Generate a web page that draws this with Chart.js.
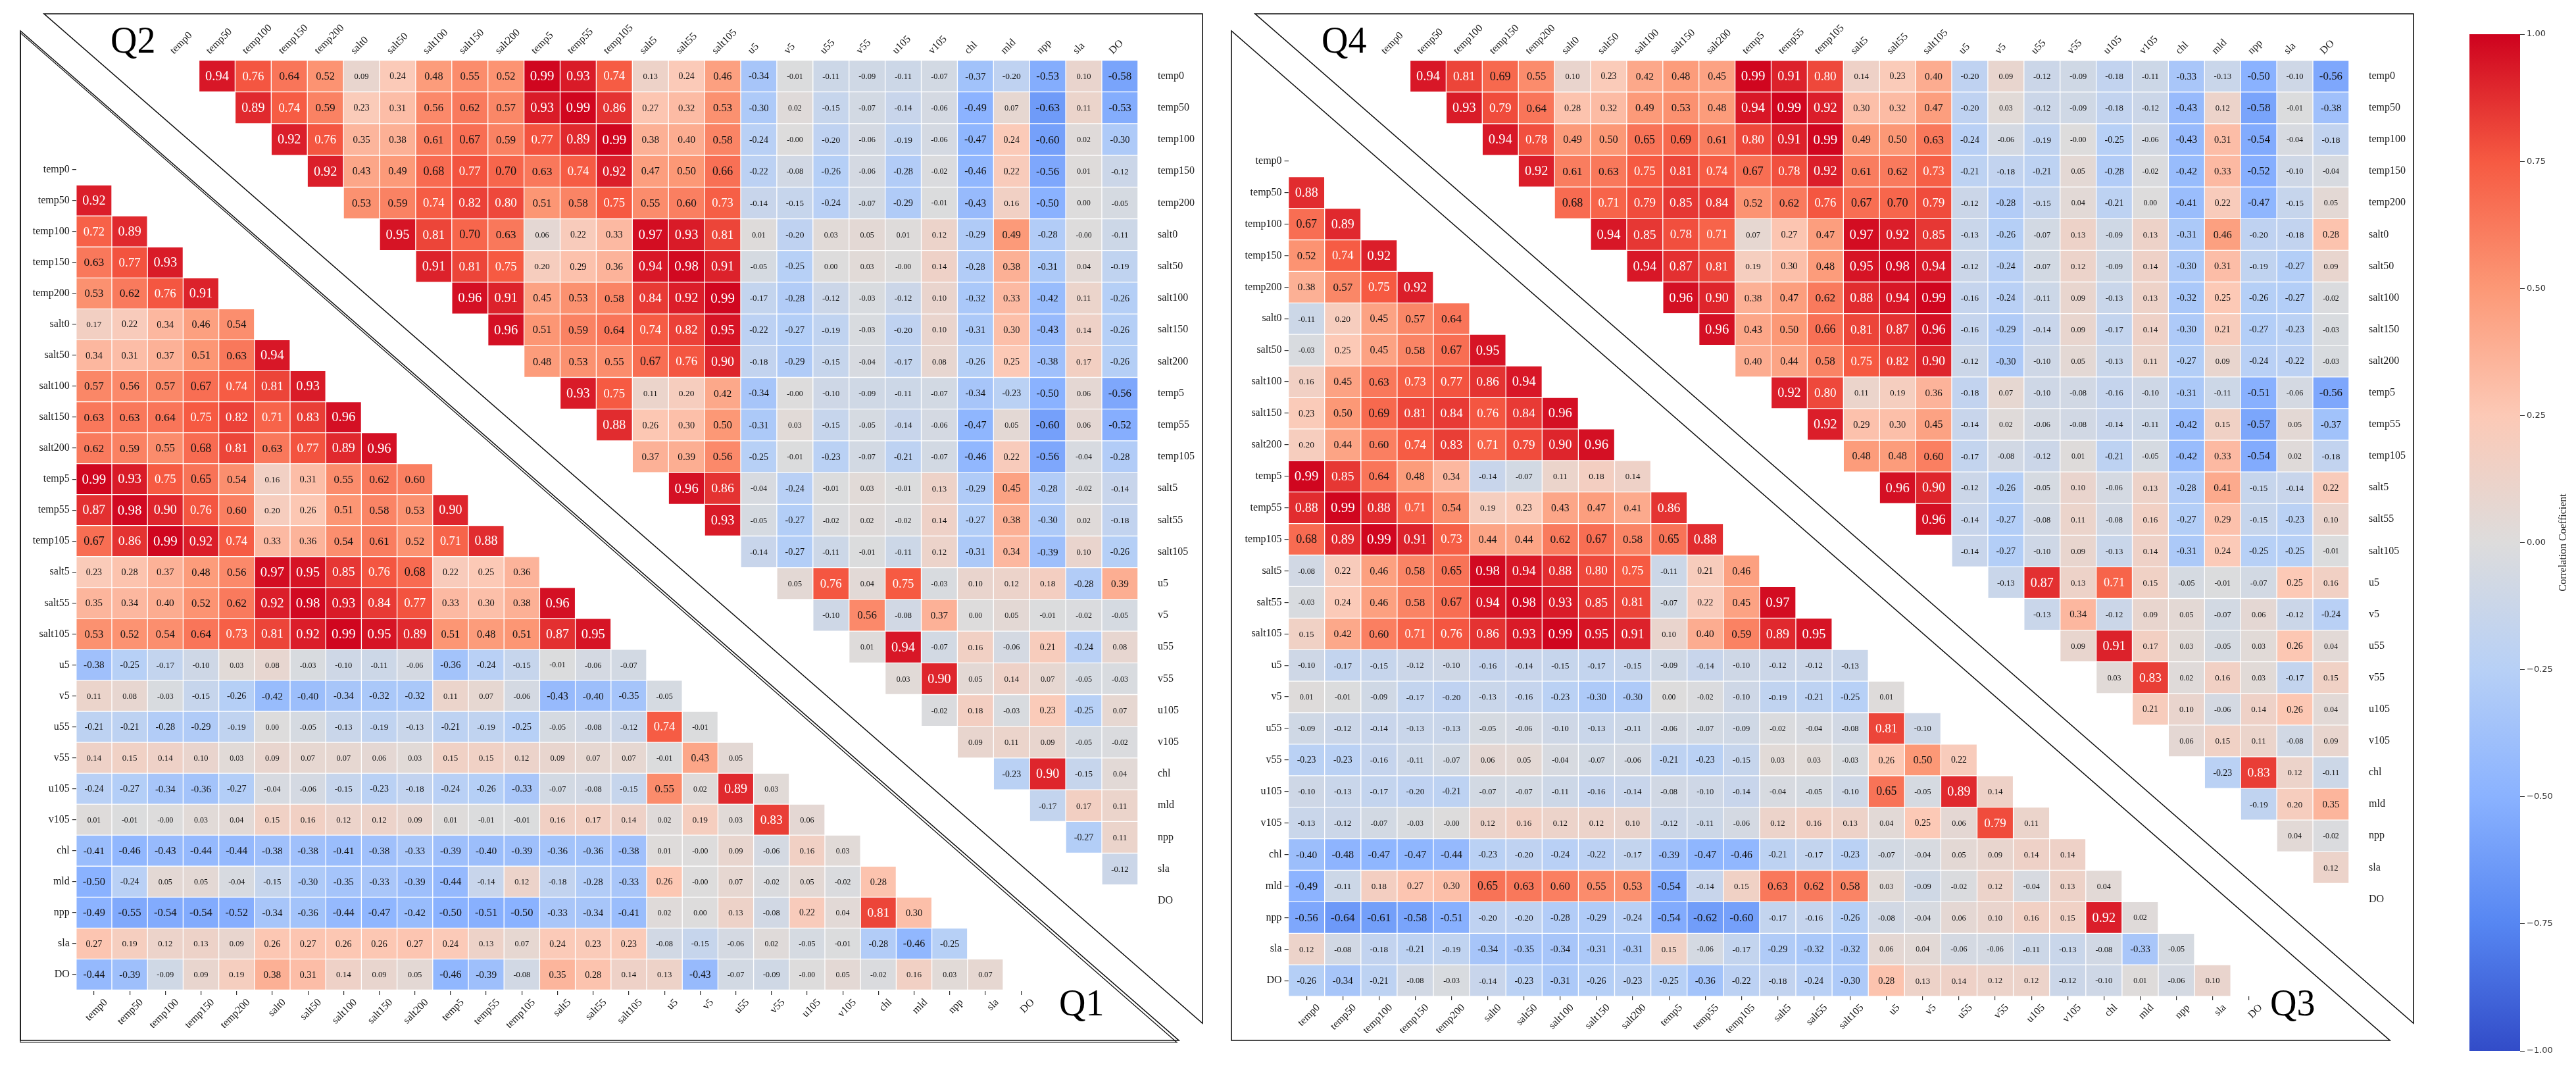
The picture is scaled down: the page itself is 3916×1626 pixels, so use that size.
<!DOCTYPE html>
<html lang="en">
<head>
<meta charset="UTF-8">
<title>Correlation matrices Q1-Q4</title>
<script src="https://cdn.jsdelivr.net/npm/chart.js"></script>
<style>
  html, body { margin: 0; padding: 0; background: #fff; }
  body { width: 3916px; height: 1626px; position: relative; overflow: hidden; }
  .box { position: absolute; top: 0; height: 1626px; }
</style>
</head>
<body>
<div class="box" style="left:0;width:1841px"><canvas id="leftPanel"></canvas></div>
<div class="box" style="left:1841px;width:1841px"><canvas id="rightPanel"></canvas></div>
<div class="box" style="left:3700px;width:216px"><canvas id="colorBar"></canvas></div>

<script>
// variable names, same order on every axis
var varNames = ['temp0', 'temp50', 'temp100', 'temp150', 'temp200', 'salt0', 'salt50', 'salt100', 'salt150', 'salt200',
  'temp5', 'temp55', 'temp105', 'salt5', 'salt55', 'salt105', 'u5', 'v5', 'u55', 'v55', 'u105', 'v105',
  'chl', 'mld', 'npp', 'sla', 'DO'];

var colorbarTicks = [-1, -0.75, -0.5, -0.25, 0, 0.25, 0.5, 0.75, 1];

// Q1: lower triangle of the left panel, rows temp50..DO, columns temp0..(row-1)
var q1Rows = [
  [0.92],
  [0.72, 0.89],
  [0.63, 0.77, 0.93],
  [0.53, 0.62, 0.76, 0.91],
  [0.17, 0.22, 0.34, 0.46, 0.54],
  [0.34, 0.31, 0.37, 0.51, 0.63, 0.94],
  [0.57, 0.56, 0.57, 0.67, 0.74, 0.81, 0.93],
  [0.63, 0.63, 0.64, 0.75, 0.82, 0.71, 0.83, 0.96],
  [0.62, 0.59, 0.55, 0.68, 0.81, 0.63, 0.77, 0.89, 0.96],
  [0.99, 0.93, 0.75, 0.65, 0.54, 0.16, 0.31, 0.55, 0.62, 0.60],
  [0.87, 0.98, 0.90, 0.76, 0.60, 0.20, 0.26, 0.51, 0.58, 0.53, 0.90],
  [0.67, 0.86, 0.99, 0.92, 0.74, 0.33, 0.36, 0.54, 0.61, 0.52, 0.71, 0.88],
  [0.23, 0.28, 0.37, 0.48, 0.56, 0.97, 0.95, 0.85, 0.76, 0.68, 0.22, 0.25, 0.36],
  [0.35, 0.34, 0.40, 0.52, 0.62, 0.92, 0.98, 0.93, 0.84, 0.77, 0.33, 0.30, 0.38, 0.96],
  [0.53, 0.52, 0.54, 0.64, 0.73, 0.81, 0.92, 0.99, 0.95, 0.89, 0.51, 0.48, 0.51, 0.87, 0.95],
  [-0.38, -0.25, -0.17, -0.10, 0.03, 0.08, -0.03, -0.10, -0.11, -0.06, -0.36, -0.24, -0.15, -0.01, -0.06, -0.07],
  [0.11, 0.08, -0.03, -0.15, -0.26, -0.42, -0.40, -0.34, -0.32, -0.32, 0.11, 0.07, -0.06, -0.43, -0.40, -0.35, -0.05],
  [-0.21, -0.21, -0.28, -0.29, -0.19, 0.00, -0.05, -0.13, -0.19, -0.13, -0.21, -0.19, -0.25, -0.05, -0.08, -0.12, 0.74, -0.01],
  [0.14, 0.15, 0.14, 0.10, 0.03, 0.09, 0.07, 0.07, 0.06, 0.03, 0.15, 0.15, 0.12, 0.09, 0.07, 0.07, -0.01, 0.43, 0.05],
  [-0.24, -0.27, -0.34, -0.36, -0.27, -0.04, -0.06, -0.15, -0.23, -0.18, -0.24, -0.26, -0.33, -0.07, -0.08, -0.15, 0.55, 0.02, 0.89, 0.03],
  [0.01, -0.01, -0.00, 0.03, 0.04, 0.15, 0.16, 0.12, 0.12, 0.09, 0.01, -0.01, -0.01, 0.16, 0.17, 0.14, 0.02, 0.19, 0.03, 0.83, 0.06],
  [-0.41, -0.46, -0.43, -0.44, -0.44, -0.38, -0.38, -0.41, -0.38, -0.33, -0.39, -0.40, -0.39, -0.36, -0.36, -0.38, 0.01, -0.00, 0.09, -0.06, 0.16, 0.03],
  [-0.50, -0.24, 0.05, 0.05, -0.04, -0.15, -0.30, -0.35, -0.33, -0.39, -0.44, -0.14, 0.12, -0.18, -0.28, -0.33, 0.26, -0.00, 0.07, -0.02, 0.05, -0.02, 0.28],
  [-0.49, -0.55, -0.54, -0.54, -0.52, -0.34, -0.36, -0.44, -0.47, -0.42, -0.50, -0.51, -0.50, -0.33, -0.34, -0.41, 0.02, 0.00, 0.13, -0.08, 0.22, 0.04, 0.81, 0.30],
  [0.27, 0.19, 0.12, 0.13, 0.09, 0.26, 0.27, 0.26, 0.26, 0.27, 0.24, 0.13, 0.07, 0.24, 0.23, 0.23, -0.08, -0.15, -0.06, 0.02, -0.05, -0.01, -0.28, -0.46, -0.25],
  [-0.44, -0.39, -0.09, 0.09, 0.19, 0.38, 0.31, 0.14, 0.09, 0.05, -0.46, -0.39, -0.08, 0.35, 0.28, 0.14, 0.13, -0.43, -0.07, -0.09, -0.00, 0.05, -0.02, 0.16, 0.03, 0.07]
];

// Q2: upper triangle of the left panel, rows temp0..sla, columns (row+1)..DO
var q2Rows = [
  [0.94, 0.76, 0.64, 0.52, 0.09, 0.24, 0.48, 0.55, 0.52, 0.99, 0.93, 0.74, 0.13, 0.24, 0.46, -0.34, -0.01, -0.11, -0.09, -0.11, -0.07, -0.37, -0.20, -0.53, 0.10, -0.58],
  [0.89, 0.74, 0.59, 0.23, 0.31, 0.56, 0.62, 0.57, 0.93, 0.99, 0.86, 0.27, 0.32, 0.53, -0.30, 0.02, -0.15, -0.07, -0.14, -0.06, -0.49, 0.07, -0.63, 0.11, -0.53],
  [0.92, 0.76, 0.35, 0.38, 0.61, 0.67, 0.59, 0.77, 0.89, 0.99, 0.38, 0.40, 0.58, -0.24, -0.00, -0.20, -0.06, -0.19, -0.06, -0.47, 0.24, -0.60, 0.02, -0.30],
  [0.92, 0.43, 0.49, 0.68, 0.77, 0.70, 0.63, 0.74, 0.92, 0.47, 0.50, 0.66, -0.22, -0.08, -0.26, -0.06, -0.28, -0.02, -0.46, 0.22, -0.56, 0.01, -0.12],
  [0.53, 0.59, 0.74, 0.82, 0.80, 0.51, 0.58, 0.75, 0.55, 0.60, 0.73, -0.14, -0.15, -0.24, -0.07, -0.29, -0.01, -0.43, 0.16, -0.50, 0.00, -0.05],
  [0.95, 0.81, 0.70, 0.63, 0.06, 0.22, 0.33, 0.97, 0.93, 0.81, 0.01, -0.20, 0.03, 0.05, 0.01, 0.12, -0.29, 0.49, -0.28, -0.00, -0.11],
  [0.91, 0.81, 0.75, 0.20, 0.29, 0.36, 0.94, 0.98, 0.91, -0.05, -0.25, 0.00, 0.03, -0.00, 0.14, -0.28, 0.38, -0.31, 0.04, -0.19],
  [0.96, 0.91, 0.45, 0.53, 0.58, 0.84, 0.92, 0.99, -0.17, -0.28, -0.12, -0.03, -0.12, 0.10, -0.32, 0.33, -0.42, 0.11, -0.26],
  [0.96, 0.51, 0.59, 0.64, 0.74, 0.82, 0.95, -0.22, -0.27, -0.19, -0.03, -0.20, 0.10, -0.31, 0.30, -0.43, 0.14, -0.26],
  [0.48, 0.53, 0.55, 0.67, 0.76, 0.90, -0.18, -0.29, -0.15, -0.04, -0.17, 0.08, -0.26, 0.25, -0.38, 0.17, -0.26],
  [0.93, 0.75, 0.11, 0.20, 0.42, -0.34, -0.00, -0.10, -0.09, -0.11, -0.07, -0.34, -0.23, -0.50, 0.06, -0.56],
  [0.88, 0.26, 0.30, 0.50, -0.31, 0.03, -0.15, -0.05, -0.14, -0.06, -0.47, 0.05, -0.60, 0.06, -0.52],
  [0.37, 0.39, 0.56, -0.25, -0.01, -0.23, -0.07, -0.21, -0.07, -0.46, 0.22, -0.56, -0.04, -0.28],
  [0.96, 0.86, -0.04, -0.24, -0.01, 0.03, -0.01, 0.13, -0.29, 0.45, -0.28, -0.02, -0.14],
  [0.93, -0.05, -0.27, -0.02, 0.02, -0.02, 0.14, -0.27, 0.38, -0.30, 0.02, -0.18],
  [-0.14, -0.27, -0.11, -0.01, -0.11, 0.12, -0.31, 0.34, -0.39, 0.10, -0.26],
  [0.05, 0.76, 0.04, 0.75, -0.03, 0.10, 0.12, 0.18, -0.28, 0.39],
  [-0.10, 0.56, -0.08, 0.37, 0.00, 0.05, -0.01, -0.02, -0.05],
  [0.01, 0.94, -0.07, 0.16, -0.06, 0.21, -0.24, 0.08],
  [0.03, 0.90, 0.05, 0.14, 0.07, -0.05, -0.03],
  [-0.02, 0.18, -0.03, 0.23, -0.25, 0.07],
  [0.09, 0.11, 0.09, -0.05, -0.02],
  [-0.23, 0.90, -0.15, 0.04],
  [-0.17, 0.17, 0.11],
  [-0.27, 0.11],
  [-0.12]
];

// Q3: lower triangle of the right panel
var q3Rows = [
  [0.88],
  [0.67, 0.89],
  [0.52, 0.74, 0.92],
  [0.38, 0.57, 0.75, 0.92],
  [-0.11, 0.20, 0.45, 0.57, 0.64],
  [-0.03, 0.25, 0.45, 0.58, 0.67, 0.95],
  [0.16, 0.45, 0.63, 0.73, 0.77, 0.86, 0.94],
  [0.23, 0.50, 0.69, 0.81, 0.84, 0.76, 0.84, 0.96],
  [0.20, 0.44, 0.60, 0.74, 0.83, 0.71, 0.79, 0.90, 0.96],
  [0.99, 0.85, 0.64, 0.48, 0.34, -0.14, -0.07, 0.11, 0.18, 0.14],
  [0.88, 0.99, 0.88, 0.71, 0.54, 0.19, 0.23, 0.43, 0.47, 0.41, 0.86],
  [0.68, 0.89, 0.99, 0.91, 0.73, 0.44, 0.44, 0.62, 0.67, 0.58, 0.65, 0.88],
  [-0.08, 0.22, 0.46, 0.58, 0.65, 0.98, 0.94, 0.88, 0.80, 0.75, -0.11, 0.21, 0.46],
  [-0.03, 0.24, 0.46, 0.58, 0.67, 0.94, 0.98, 0.93, 0.85, 0.81, -0.07, 0.22, 0.45, 0.97],
  [0.15, 0.42, 0.60, 0.71, 0.76, 0.86, 0.93, 0.99, 0.95, 0.91, 0.10, 0.40, 0.59, 0.89, 0.95],
  [-0.10, -0.17, -0.15, -0.12, -0.10, -0.16, -0.14, -0.15, -0.17, -0.15, -0.09, -0.14, -0.10, -0.12, -0.12, -0.13],
  [0.01, -0.01, -0.09, -0.17, -0.20, -0.13, -0.16, -0.23, -0.30, -0.30, 0.00, -0.02, -0.10, -0.19, -0.21, -0.25, 0.01],
  [-0.09, -0.12, -0.14, -0.13, -0.13, -0.05, -0.06, -0.10, -0.13, -0.11, -0.06, -0.07, -0.09, -0.02, -0.04, -0.08, 0.81, -0.10],
  [-0.23, -0.23, -0.16, -0.11, -0.07, 0.06, 0.05, -0.04, -0.07, -0.06, -0.21, -0.23, -0.15, 0.03, 0.03, -0.03, 0.26, 0.50, 0.22],
  [-0.10, -0.13, -0.17, -0.20, -0.21, -0.07, -0.07, -0.11, -0.16, -0.14, -0.08, -0.10, -0.14, -0.04, -0.05, -0.10, 0.65, -0.05, 0.89, 0.14],
  [-0.13, -0.12, -0.07, -0.03, -0.00, 0.12, 0.16, 0.12, 0.12, 0.10, -0.12, -0.11, -0.06, 0.12, 0.16, 0.13, 0.04, 0.25, 0.06, 0.79, 0.11],
  [-0.40, -0.48, -0.47, -0.47, -0.44, -0.23, -0.20, -0.24, -0.22, -0.17, -0.39, -0.47, -0.46, -0.21, -0.17, -0.23, -0.07, -0.04, 0.05, 0.09, 0.14, 0.14],
  [-0.49, -0.11, 0.18, 0.27, 0.30, 0.65, 0.63, 0.60, 0.55, 0.53, -0.54, -0.14, 0.15, 0.63, 0.62, 0.58, 0.03, -0.09, -0.02, 0.12, -0.04, 0.13, 0.04],
  [-0.56, -0.64, -0.61, -0.58, -0.51, -0.20, -0.20, -0.28, -0.29, -0.24, -0.54, -0.62, -0.60, -0.17, -0.16, -0.26, -0.08, -0.04, 0.06, 0.10, 0.16, 0.15, 0.92, 0.02],
  [0.12, -0.08, -0.18, -0.21, -0.19, -0.34, -0.35, -0.34, -0.31, -0.31, 0.15, -0.06, -0.17, -0.29, -0.32, -0.32, 0.06, 0.04, -0.06, -0.06, -0.11, -0.13, -0.08, -0.33, -0.05],
  [-0.26, -0.34, -0.21, -0.08, -0.03, -0.14, -0.23, -0.31, -0.26, -0.23, -0.25, -0.36, -0.22, -0.18, -0.24, -0.30, 0.28, 0.13, 0.14, 0.12, 0.12, -0.12, -0.10, 0.01, -0.06, 0.10]
];

// Q4: upper triangle of the right panel
var q4Rows = [
  [0.94, 0.81, 0.69, 0.55, 0.10, 0.23, 0.42, 0.48, 0.45, 0.99, 0.91, 0.80, 0.14, 0.23, 0.40, -0.20, 0.09, -0.12, -0.09, -0.18, -0.11, -0.33, -0.13, -0.50, -0.10, -0.56],
  [0.93, 0.79, 0.64, 0.28, 0.32, 0.49, 0.53, 0.48, 0.94, 0.99, 0.92, 0.30, 0.32, 0.47, -0.20, 0.03, -0.12, -0.09, -0.18, -0.12, -0.43, 0.12, -0.58, -0.01, -0.38],
  [0.94, 0.78, 0.49, 0.50, 0.65, 0.69, 0.61, 0.80, 0.91, 0.99, 0.49, 0.50, 0.63, -0.24, -0.06, -0.19, -0.00, -0.25, -0.06, -0.43, 0.31, -0.54, -0.04, -0.18],
  [0.92, 0.61, 0.63, 0.75, 0.81, 0.74, 0.67, 0.78, 0.92, 0.61, 0.62, 0.73, -0.21, -0.18, -0.21, 0.05, -0.28, -0.02, -0.42, 0.33, -0.52, -0.10, -0.04],
  [0.68, 0.71, 0.79, 0.85, 0.84, 0.52, 0.62, 0.76, 0.67, 0.70, 0.79, -0.12, -0.28, -0.15, 0.04, -0.21, 0.00, -0.41, 0.22, -0.47, -0.15, 0.05],
  [0.94, 0.85, 0.78, 0.71, 0.07, 0.27, 0.47, 0.97, 0.92, 0.85, -0.13, -0.26, -0.07, 0.13, -0.09, 0.13, -0.31, 0.46, -0.20, -0.18, 0.28],
  [0.94, 0.87, 0.81, 0.19, 0.30, 0.48, 0.95, 0.98, 0.94, -0.12, -0.24, -0.07, 0.12, -0.09, 0.14, -0.30, 0.31, -0.19, -0.27, 0.09],
  [0.96, 0.90, 0.38, 0.47, 0.62, 0.88, 0.94, 0.99, -0.16, -0.24, -0.11, 0.09, -0.13, 0.13, -0.32, 0.25, -0.26, -0.27, -0.02],
  [0.96, 0.43, 0.50, 0.66, 0.81, 0.87, 0.96, -0.16, -0.29, -0.14, 0.09, -0.17, 0.14, -0.30, 0.21, -0.27, -0.23, -0.03],
  [0.40, 0.44, 0.58, 0.75, 0.82, 0.90, -0.12, -0.30, -0.10, 0.05, -0.13, 0.11, -0.27, 0.09, -0.24, -0.22, -0.03],
  [0.92, 0.80, 0.11, 0.19, 0.36, -0.18, 0.07, -0.10, -0.08, -0.16, -0.10, -0.31, -0.11, -0.51, -0.06, -0.56],
  [0.92, 0.29, 0.30, 0.45, -0.14, 0.02, -0.06, -0.08, -0.14, -0.11, -0.42, 0.15, -0.57, 0.05, -0.37],
  [0.48, 0.48, 0.60, -0.17, -0.08, -0.12, 0.01, -0.21, -0.05, -0.42, 0.33, -0.54, 0.02, -0.18],
  [0.96, 0.90, -0.12, -0.26, -0.05, 0.10, -0.06, 0.13, -0.28, 0.41, -0.15, -0.14, 0.22],
  [0.96, -0.14, -0.27, -0.08, 0.11, -0.08, 0.16, -0.27, 0.29, -0.15, -0.23, 0.10],
  [-0.14, -0.27, -0.10, 0.09, -0.13, 0.14, -0.31, 0.24, -0.25, -0.25, -0.01],
  [-0.13, 0.87, 0.13, 0.71, 0.15, -0.05, -0.01, -0.07, 0.25, 0.16],
  [-0.13, 0.34, -0.12, 0.09, 0.05, -0.07, 0.06, -0.12, -0.24],
  [0.09, 0.91, 0.17, 0.03, -0.05, 0.03, 0.26, 0.04],
  [0.03, 0.83, 0.02, 0.16, 0.03, -0.17, 0.15],
  [0.21, 0.10, -0.06, 0.14, 0.26, 0.04],
  [0.06, 0.15, 0.11, -0.08, 0.09],
  [-0.23, 0.83, 0.12, -0.11],
  [-0.19, 0.20, 0.35],
  [0.04, -0.02],
  [0.12]
];

// blue - grey - red colour scale
var cmapStops = [
  [-1.00, [50, 76, 200]],
  [-0.75, [86, 134, 242]],
  [-0.50, [138, 178, 255]],
  [-0.25, [183, 208, 246]],
  [0.00, [221, 220, 220]],
  [0.25, [252, 201, 182]],
  [0.50, [252, 152, 118]],
  [0.75, [246, 90, 66]],
  [1.00, [206, 2, 30]]
];

function cmap(v) {
  for (var i = 1; i < cmapStops.length; i++) {
    var a = cmapStops[i - 1], b = cmapStops[i];
    if (v <= b[0]) {
      var t = (v - a[0]) / (b[0] - a[0]);
      var c = a[1].map(function (ch, k) { return Math.round(ch + (b[1][k] - ch) * t); });
      return 'rgb(' + c.join(',') + ')';
    }
  }
  return 'rgb(' + cmapStops[cmapStops.length - 1][1].join(',') + ')';
}

function fmt(v) {
  var neg = v < 0 || Object.is(v, -0);
  return (neg ? '-' : '') + Math.abs(v).toFixed(2);
}

// one floating bar per cell, [row-0.5, row+0.5]
function buildCells(rows, lower) {
  var cells = [];
  rows.forEach(function (vals, k) {
    var r = lower ? k + 1 : k;
    vals.forEach(function (v, j) {
      var c = lower ? j : r + 1 + j;
      cells.push({ x: c, y: [r - 0.5, r + 0.5], v: v });
    });
  });
  return cells;
}

Chart.defaults.font.family = '"Liberation Serif", "Times New Roman", serif';
Chart.defaults.animation = false;

// value written in each cell, size grows with |r|
var cellText = {
  id: 'cellText',
  afterDatasetsDraw: function (chart) {
    var ctx = chart.ctx;
    ctx.save();
    ctx.textAlign = 'center';
    ctx.textBaseline = 'middle';
    chart.data.datasets.forEach(function (ds, di) {
      chart.getDatasetMeta(di).data.forEach(function (bar, i) {
        var v = ds.data[i].v;
        var p = bar.getCenterPoint();
        ctx.font = (11.6 + 9.5 * Math.abs(v)).toFixed(1) + 'px "Liberation Serif"';
        ctx.fillStyle = Math.abs(v) > 0.705 ? '#ffffff' : '#111111';
        ctx.fillText(fmt(v), p.x, p.y + 1);
      });
    });
    ctx.restore();
  }
};

// the two triangles framing each panel and the quadrant tags
var panelFrame = {
  id: 'panelFrame',
  afterDraw: function (chart, args, opts) {
    var ctx = chart.ctx;
    ctx.save();
    ctx.strokeStyle = '#111';
    ctx.lineWidth = 1.6;
    ctx.beginPath();
    ctx.moveTo(67, 21); ctx.lineTo(1828, 21); ctx.lineTo(1828, 1555); ctx.closePath();
    ctx.stroke();
    ctx.beginPath();
    ctx.moveTo(31, 47); ctx.lineTo(31, 1581); ctx.lineTo(1792, 1581); ctx.closePath();
    ctx.stroke();
    if (opts.doubled) {
      ctx.lineWidth = 1.2;
      ctx.beginPath();
      ctx.moveTo(31, 50); ctx.lineTo(31, 1584); ctx.lineTo(1789, 1584); ctx.closePath();
      ctx.stroke();
    }
    ctx.font = '56px "Liberation Serif"';
    ctx.fillStyle = '#000';
    ctx.textAlign = 'left';
    ctx.textBaseline = 'alphabetic';
    ctx.fillText(opts.upperTag, 168, 80);
    ctx.fillText(opts.lowerTag, 1610, 1543);
    ctx.restore();
  }
};

function axis(pos, range, size, marks, tickExtra) {
  var horiz = pos === 'top' || pos === 'bottom';
  var ticks = {
    autoSkip: false,
    color: '#1a1a1a',
    font: { size: 16 },
    callback: function (v) { return varNames[v]; }
  };
  Object.keys(tickExtra).forEach(function (k) { ticks[k] = tickExtra[k]; });
  return {
    type: 'linear',
    position: pos,
    min: range.min,
    max: range.max,
    bounds: 'data',
    offset: false,
    beginAtZero: false,
    reverse: !horiz,
    afterBuildTicks: function (s) {
      s.ticks = varNames.map(function (n, i) { return { value: i }; });
    },
    afterFit: function (s) {
      if (horiz) s.height = size; else s.width = size;
    },
    grid: marks
      ? { display: true, drawOnChartArea: false, drawTicks: true, tickLength: 6, color: '#333', lineWidth: 1.2, offset: false }
      : { display: false, drawTicks: false, offset: false },
    border: { display: false },
    ticks: ticks
  };
}

function makePanel(canvasId, lowerRows, upperRows, g, tags) {
  var W = 1841, H = 1626;
  var lowerCells = buildCells(lowerRows, true);
  var upperCells = buildCells(upperRows, false);
  function span(a, b, start, cell) {
    return { min: -0.5 + (a - start) / cell, max: -0.5 + (b - start) / cell };
  }
  var A = g.area;
  function cellSet(cells, xId, yId) {
    return {
      data: cells,
      xAxisID: xId,
      yAxisID: yId,
      grouped: false,
      backgroundColor: cells.map(function (c) { return cmap(c.v); }),
      borderColor: '#ffffff',
      borderWidth: 1,
      borderSkipped: false,
      barPercentage: 1,
      categoryPercentage: 1
    };
  }
  return new Chart(document.getElementById(canvasId), {
    type: 'bar',
    data: { datasets: [cellSet(lowerCells, 'x', 'y'), cellSet(upperCells, 'x2', 'y2')] },
    options: {
      responsive: true,
      maintainAspectRatio: false,
      events: [],
      layout: { padding: 0 },
      plugins: {
        legend: { display: false },
        tooltip: { enabled: false },
        panelFrame: tags
      },
      scales: {
        x: axis('bottom', span(A.l, A.r, g.lower.x0, g.lower.cw), H - A.b, true,
          { minRotation: 45, maxRotation: 45, padding: 2, labelOffset: 18 }),
        y: axis('left', span(A.t, A.b, g.lower.y0, g.lower.ch), A.l, true, { padding: 4 }),
        x2: axis('top', span(A.l, A.r, g.upper.x0, g.upper.cw), A.t, false,
          { minRotation: 45, maxRotation: 45, padding: 5, labelOffset: 0 }),
        y2: axis('right', span(A.t, A.b, g.upper.y0, g.upper.ch), W - A.r, false, { padding: 30 })
      }
    },
    plugins: [cellText, panelFrame]
  });
}

makePanel('leftPanel', q1Rows, q2Rows, {
  area: { l: 115.8, r: 1730, t: 91.5, b: 1506 },
  lower: { x0: 115.8, y0: 234.1, cw: 54.2, ch: 47.05 },
  upper: { x0: 247.6, y0: 91.5, cw: 54.9, ch: 48.2 }
}, { upperTag: 'Q2', lowerTag: 'Q1', doubled: true });

makePanel('rightPanel', q3Rows, q4Rows, {
  area: { l: 117.6, r: 1730, t: 91.8, b: 1514 },
  lower: { x0: 117.6, y0: 220.8, cw: 55.1, ch: 47.9 },
  upper: { x0: 247.6, y0: 91.8, cw: 54.9, ch: 48.1 }
}, { upperTag: 'Q4', lowerTag: 'Q3', doubled: false });

// colour-bar label, reading bottom to top beside the tick labels
var barTitle = {
  id: 'barTitle',
  afterDraw: function (chart, args, opts) {
    var ys = chart.scales.y, ctx = chart.ctx;
    ctx.save();
    ctx.translate(ys.right - 19, (ys.top + ys.bottom) / 2);
    ctx.rotate(-Math.PI / 2);
    ctx.font = '16px "Liberation Serif"';
    ctx.fillStyle = '#222';
    ctx.textAlign = 'center';
    ctx.textBaseline = 'middle';
    ctx.fillText(opts.text, 0, 0);
    ctx.restore();
  }
};

// colour bar: a single floating bar from -1 to 1 filled with the scale
new Chart(document.getElementById('colorBar'), {
  type: 'bar',
  data: {
    labels: [''],
    datasets: [{
      data: [[colorbarTicks[0], colorbarTicks[colorbarTicks.length - 1]]],
      backgroundColor: function (c) {
        var ch = c.chart, ys = ch.scales.y;
        if (!ch.chartArea || !ys) return null;
        var g = ch.ctx.createLinearGradient(0, ys.getPixelForValue(-1), 0, ys.getPixelForValue(1));
        cmapStops.forEach(function (s) { g.addColorStop((s[0] + 1) / 2, cmap(s[0])); });
        return g;
      },
      borderWidth: 0,
      barPercentage: 1,
      categoryPercentage: 1
    }]
  },
  options: {
    responsive: true,
    maintainAspectRatio: false,
    events: [],
    layout: { padding: { left: 54, top: 52, bottom: 29, right: 0 } },
    plugins: {
      legend: { display: false },
      tooltip: { enabled: false },
      barTitle: { text: 'Correlation Coefficient' }
    },
    scales: {
      x: { display: false },
      y: {
        position: 'right',
        min: -1,
        max: 1,
        beginAtZero: false,
        afterBuildTicks: function (s) {
          s.ticks = colorbarTicks.map(function (v) { return { value: v }; });
        },
        afterFit: function (s) { s.width = 85; },
        grid: { drawOnChartArea: false, drawTicks: true, tickLength: 7, color: '#333' },
        border: { display: false },
        ticks: {
          padding: 3,
          color: '#333',
          font: { family: '"DejaVu Sans"', size: 13 },
          callback: function (v) { return (v < 0 ? '\u2212' : '') + Math.abs(v).toFixed(2); }
        }
      }
    }
  },
  plugins: [barTitle]
});
</script>
</body>
</html>
